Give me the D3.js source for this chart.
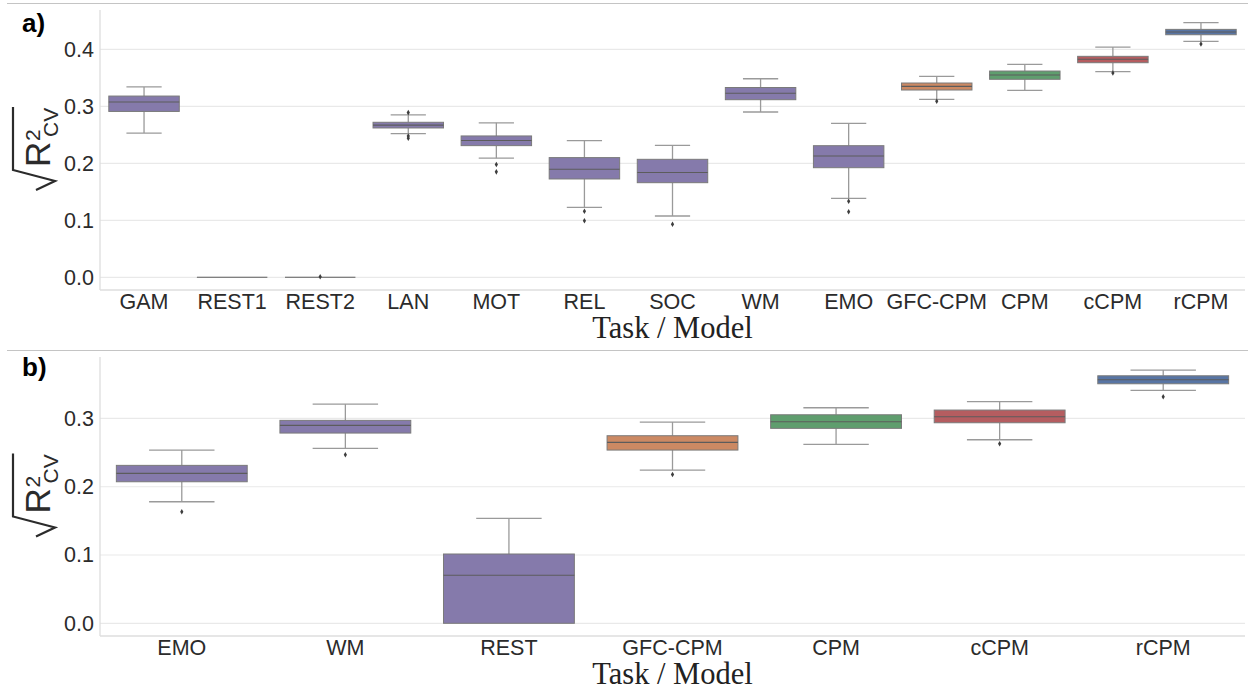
<!DOCTYPE html>
<html>
<head>
<meta charset="utf-8">
<script src="https://cdn.jsdelivr.net/npm/d3@7"></script>
<style>
  html, body { margin: 0; padding: 0; background: #fff; }
  svg { display: block; font-family: "Liberation Sans", Arial, sans-serif; }
  .tick text { fill: #2b2b2b; font-size: 21.5px; }
</style>
</head>
<body>
<svg id="chart" width="1248" height="692"></svg>
<script>
// ---- Panel a: tasks and models ----
const catsA = ["GAM", "REST1", "REST2", "LAN", "MOT", "REL", "SOC", "WM", "EMO", "GFC-CPM", "CPM", "cCPM", "rCPM"];
const loA  = [0.253, 0, 0, 0.252, 0.209, 0.1228, 0.1075, 0.290, 0.1386, 0.3123, 0.328, 0.3607, 0.414];
const q1A  = [0.291, 0, 0, 0.262, 0.231, 0.1725, 0.166, 0.3116, 0.1923, 0.3286, 0.3474, 0.3765, 0.4256];
const medA = [0.3075, 0, 0, 0.267, 0.240, 0.1895, 0.184, 0.3228, 0.2128, 0.335, 0.3549, 0.3825, 0.4303];
const q3A  = [0.318, 0, 0, 0.272, 0.248, 0.210, 0.207, 0.333, 0.2309, 0.3409, 0.3619, 0.3877, 0.435];
const hiA  = [0.334, 0, 0, 0.285, 0.271, 0.2397, 0.2316, 0.3484, 0.270, 0.3526, 0.3737, 0.404, 0.4467];
const outA = [[], [], [0.001], [0.289, 0.248, 0.244], [0.198, 0.185], [0.1158, 0.0993], [0.093], [], [0.1333, 0.115], [0.3088], [], [0.3584], [0.4093]];
const kindA = ["task", "task", "task", "task", "task", "task", "task", "task", "task", "GFC-CPM", "CPM", "cCPM", "rCPM"];
const ticksA = [0.0, 0.1, 0.2, 0.3, 0.4];

// ---- Panel b: tasks and models ----
const catsB = ["EMO", "WM", "REST", "GFC-CPM", "CPM", "cCPM", "rCPM"];
const loB  = [0.178, 0.2562, 0, 0.2244, 0.262, 0.2688, 0.3411];
const q1B  = [0.2073, 0.2786, 0, 0.2537, 0.2855, 0.2937, 0.3508];
const medB = [0.2196, 0.2899, 0.0703, 0.265, 0.2952, 0.3025, 0.3567];
const q3B  = [0.2313, 0.2972, 0.1015, 0.2747, 0.3054, 0.3123, 0.3625];
const hiB  = [0.2537, 0.321, 0.1537, 0.2947, 0.3157, 0.3245, 0.3709];
const outB = [[0.1634], [0.2469], [], [0.218], [], [0.263], [0.3318]];
const kindB = ["task", "task", "task", "GFC-CPM", "CPM", "cCPM", "rCPM"];
const ticksB = [0.0, 0.1, 0.2, 0.3];

// desaturated "deep" palette colours per kind
const kindColor = { "task": "#857aab", "GFC-CPM": "#cc8963", "CPM": "#5f9e6e", "cCPM": "#b55d60", "rCPM": "#5875a4" };

const svg = d3.select("#chart");

// panel separator lines
[3.5, 350.5].forEach(y => {
  svg.append("line").attr("x1", 7).attr("x2", 1248).attr("y1", y).attr("y2", y)
    .attr("stroke", "#c4c4c4").attr("stroke-width", 1.2);
});

function panel(opts) {
  const { cats, lo, q1, med, q3, hi, out, kind, ticks, top, bottom, domain, tag } = opts;
  const left = 100, right = 1245;
  const g = svg.append("g");
  const x = d3.scaleBand().domain(cats).range([left, right]).paddingInner(0).paddingOuter(0);
  const y = d3.scaleLinear().domain(domain).range([bottom, top]);

  // grid
  g.append("g").selectAll("line").data(ticks).join("line")
    .attr("x1", left).attr("x2", right)
    .attr("y1", d => y(d)).attr("y2", d => y(d))
    .attr("stroke", "#e9e9e9").attr("stroke-width", 1.2);

  // spines
  g.append("line").attr("x1", left).attr("x2", left).attr("y1", top).attr("y2", bottom)
    .attr("stroke", "#dedede").attr("stroke-width", 1.3);
  g.append("line").attr("x1", left).attr("x2", right).attr("y1", bottom).attr("y2", bottom)
    .attr("stroke", "#dedede").attr("stroke-width", 1.3);

  // axes
  const ya = g.append("g").attr("transform", `translate(${left},0)`)
    .call(d3.axisLeft(y).tickValues(ticks).tickFormat(d3.format(".1f")).tickSize(0).tickPadding(6));
  ya.select(".domain").remove();
  const xa = g.append("g").attr("transform", `translate(0,${bottom})`)
    .call(d3.axisBottom(x).tickSize(0).tickPadding(4));
  xa.select(".domain").remove();
  g.selectAll(".tick text").attr("font-family", "Liberation Sans, Arial, sans-serif");

  // boxes
  const bw = x.bandwidth() * 0.8;
  const capW = bw * 0.5;
  const boxes = g.append("g").selectAll("g").data(cats.map((c, i) => i)).join("g")
    .attr("transform", i => `translate(${x(cats[i]) + x.bandwidth() / 2},0)`);

  const wColor = "#9a9a9a", eColor = "#5c5c5c";
  // whiskers
  boxes.append("line").attr("x1", 0).attr("x2", 0)
    .attr("y1", i => y(hi[i])).attr("y2", i => y(q3[i]))
    .attr("stroke", wColor).attr("stroke-width", 1.3);
  boxes.append("line").attr("x1", 0).attr("x2", 0)
    .attr("y1", i => y(q1[i])).attr("y2", i => y(lo[i]))
    .attr("stroke", wColor).attr("stroke-width", 1.3);
  // caps
  boxes.filter(i => hi[i] > q3[i]).append("line").attr("x1", -capW / 2).attr("x2", capW / 2)
    .attr("y1", i => y(hi[i])).attr("y2", i => y(hi[i]))
    .attr("stroke", wColor).attr("stroke-width", 1.3);
  boxes.filter(i => lo[i] < q1[i]).append("line").attr("x1", -capW / 2).attr("x2", capW / 2)
    .attr("y1", i => y(lo[i])).attr("y2", i => y(lo[i]))
    .attr("stroke", wColor).attr("stroke-width", 1.3);
  // box body
  boxes.append("rect").attr("x", -bw / 2).attr("width", bw)
    .attr("y", i => y(q3[i])).attr("height", i => Math.max(0, y(q1[i]) - y(q3[i])))
    .attr("fill", i => kindColor[kind[i]])
    .attr("stroke", "#7a7a7a").attr("stroke-width", 1);
  // median
  boxes.append("line").attr("x1", -bw / 2).attr("x2", bw / 2)
    .attr("y1", i => y(med[i])).attr("y2", i => y(med[i]))
    .attr("stroke", eColor).attr("stroke-width", 1.1);
  // outliers
  const diamond = d3.symbol().type(d3.symbolDiamond).size(9)();
  boxes.each(function (i) {
    d3.select(this).selectAll("path.fl").data(out[i]).join("path").attr("class", "fl")
      .attr("d", diamond)
      .attr("transform", v => `translate(0,${y(v)})`)
      .attr("fill", "#3d3d3d");
  });

  // x-axis title
  g.append("text").attr("x", (left + right) / 2).attr("y", bottom + 47.5)
    .attr("text-anchor", "middle")
    .attr("font-family", "Liberation Serif, Times New Roman, serif")
    .attr("font-size", 30.5).attr("fill", "#222")
    .text("Task / Model");

  // y-axis title: square root of R squared (CV), rotated
  const cy = (top + bottom) / 2;
  const lab = g.append("g").attr("fill", "#2b2b2b");
  lab.append("path")
    .attr("d", `M36,${cy + 40} L55,${cy + 31} L13,${cy + 20} L13,${cy - 43}`)
    .attr("fill", "none").attr("stroke", "#2b2b2b").attr("stroke-width", 2.2)
    .attr("stroke-linejoin", "miter");
  lab.append("text").attr("transform", `translate(50,${cy + 17}) rotate(-90)`)
    .attr("font-size", 35).text("R");
  lab.append("text").attr("transform", `translate(40,${cy - 9}) rotate(-90)`)
    .attr("font-size", 21).text("2");
  lab.append("text").attr("transform", `translate(58,${cy - 13}) rotate(-90)`)
    .attr("font-size", 21).text("CV");

  // panel tag
  g.append("text").attr("x", 22).attr("y", top + tag.dy)
    .attr("font-family", "Liberation Sans, Arial, sans-serif")
    .attr("font-weight", "bold").attr("font-size", 26).attr("fill", "#000")
    .text(tag.text);
}

panel({ cats: catsA, lo: loA, q1: q1A, med: medA, q3: q3A, hi: hiA, out: outA, kind: kindA,
  ticks: ticksA, top: 10, bottom: 290, domain: [-0.0223, 0.469], tag: { text: "a)", dy: 22 } });
panel({ cats: catsB, lo: loB, q1: q1B, med: medB, q3: q3B, hi: hiB, out: outB, kind: kindB,
  ticks: ticksB, top: 357, bottom: 636, domain: [-0.0186, 0.39], tag: { text: "b)", dy: 19 } });
</script>
</body>
</html>
